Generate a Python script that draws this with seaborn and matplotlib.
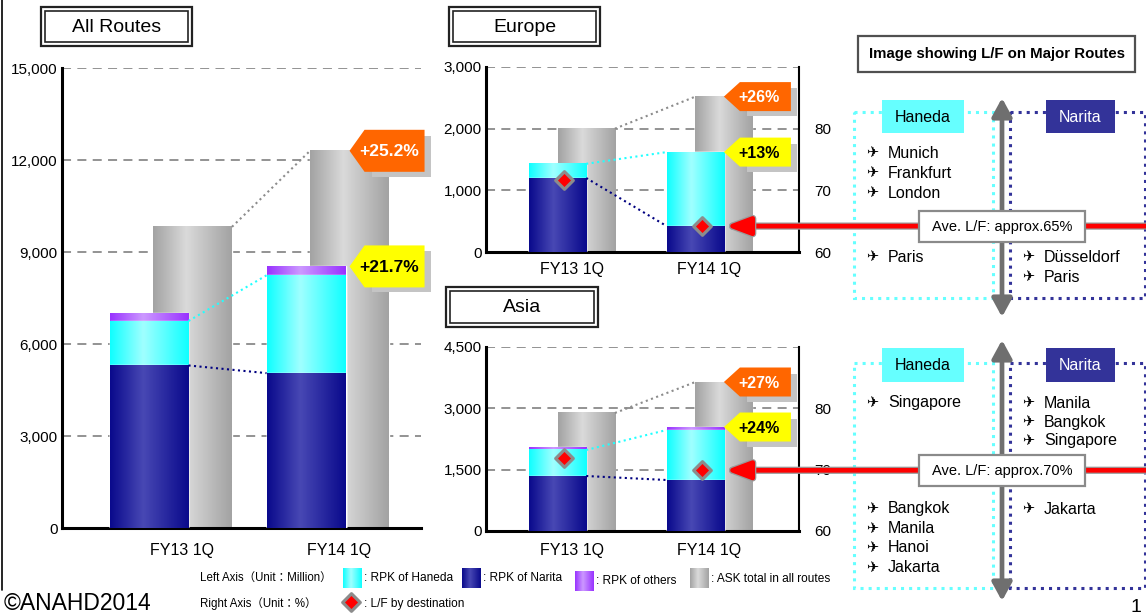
import numpy as np
import matplotlib
matplotlib.use("Agg")
import matplotlib.pyplot as plt
import matplotlib.patheffects as pe
import seaborn as sns
from matplotlib.patches import Rectangle, Polygon
from matplotlib.colors import LinearSegmentedColormap
from matplotlib.ticker import FuncFormatter

sns.set_style("white")
plt.rcParams['font.family'] = ['Liberation Sans', 'DejaVu Sans', 'Noto Sans CJK JP']
plt.rcParams['text.color'] = 'black'
plt.rcParams['xtick.color'] = 'black'
plt.rcParams['ytick.color'] = 'black'

# data (RPK / ASK in million, L/F in %)
quarters = ["FY13 1Q", "FY14 1Q"]

all_narita = [5300, 5050]
all_haneda = [1450, 3190]
all_others = [260, 290]
all_ask = [9820, 12300]
all_tags = ["+21.7%", "+25.2%"]   # RPK growth, ASK growth

eu_narita = [1200, 420]
eu_haneda = [230, 1200]
eu_others = [0, 0]
eu_ask = [2000, 2520]
eu_lf = [71.7, 64.2]
eu_tags = ["+13%", "+26%"]

as_narita = [1345, 1247]
as_haneda = [636, 1223]
as_others = [73, 73]
as_ask = [2886, 3644]
as_lf = [71.9, 69.9]
as_tags = ["+24%", "+27%"]

eu_haneda_hi = ["Munich", "Frankfurt", "London"]
eu_haneda_lo = ["Paris"]
eu_narita_lo = ["Düsseldorf", "Paris"]
as_haneda_hi = ["Singapore"]
as_haneda_lo = ["Bangkok", "Manila", "Hanoi", "Jakarta"]
as_narita_hi = ["Manila", "Bangkok", "Singapore"]
as_narita_lo = ["Jakarta"]

C_NAVY = ("#0a0a8c", "#4848b4")
C_CYAN = ("#10ffff", "#a0ffff")
C_PURP = ("#9933ff", "#cc99ff")
C_GRAY = ("#a3a3a3", "#dadada")
SMALL = ['Liberation Sans', 'Noto Sans CJK JP']

W, H = 1146, 616
fig = plt.figure(figsize=(W / 100, H / 100), dpi=100)


def box(l, t, r, b):
    return [l / W, 1 - b / H, (r - l) / W, (b - t) / H]


def gradient(ax, x0, x1, y0, y1, cols, z):
    cmap = LinearSegmentedColormap.from_list("g", [(0, cols[0]), (0.42, cols[1]), (1, cols[0])])
    ax.imshow(np.linspace(0, 1, 64)[None, :], cmap=cmap, extent=(x0, x1, y0, y1),
              aspect='auto', zorder=z, interpolation='bilinear')


def bars(ax, values, cols, shift, width, z):
    n0 = len(ax.patches)
    sns.barplot(x=quarters, y=values, color=cols[0], saturation=1, width=width,
                errorbar=None, ax=ax, zorder=z)
    for p in ax.patches[n0:]:
        p.set_x(p.get_x() + shift)
        if p.get_height() > 0:
            gradient(ax, p.get_x(), p.get_x() + p.get_width(), 0, p.get_height(), cols, z + 0.01)


def panel(ax, narita, haneda, others, ask, ymax, ystep, width, s_rpk, s_ask, xlim, xpad):
    rpk_top = np.add(narita, haneda)
    tot = rpk_top + np.array(others)
    bars(ax, ask, C_GRAY, s_ask, width, 2)
    bars(ax, tot, C_PURP, s_rpk, width, 3)
    bars(ax, rpk_top, C_CYAN, s_rpk, width, 4)
    bars(ax, narita, C_NAVY, s_rpk, width, 5)
    for vals, c, s in [(ask, '#8c8c8c', s_ask), (rpk_top, '#22ffff', s_rpk), (narita, '#000080', s_rpk)]:
        ax.plot([s + width / 2, 1 + s - width / 2], vals, ls=':', lw=1.5, color=c, zorder=6)
    ax.set_xlim(*xlim)
    ax.set_ylim(0, ymax)
    ax.set_yticks(np.arange(0, ymax + 1, ystep))
    ax.yaxis.set_major_formatter(FuncFormatter(lambda v, p: f"{v:,.0f}"))
    ax.yaxis.grid(True, ls=(0, (5, 3.5)), color='#8a8a8a', lw=1.3)
    ax.xaxis.grid(False)
    ax.set_axisbelow(True)
    ax.set_xlabel("")
    ax.set_ylabel("")
    ax.spines['top'].set_visible(False)
    for k in ['left', 'bottom']:
        ax.spines[k].set_linewidth(2.2)
        ax.spines[k].set_color('black')
    ax.tick_params(axis='y', length=0, labelsize=11, pad=3)
    ax.tick_params(axis='x', length=0, labelsize=11.5, pad=xpad)


def lf_axis(ax, lf, s):
    ax2 = ax.twinx()
    sns.scatterplot(x=np.arange(len(lf)) + s, y=lf, marker='D', s=80, color='#ff0000',
                    edgecolor='#8c8c8c', linewidth=2.3, ax=ax2, zorder=7, legend=False)
    ax2.set_ylim(60, 90)
    ax2.set_yticks([60, 70, 80])
    ax2.set_ylabel("")
    ax2.tick_params(length=0, pad=11, labelsize=11)
    for sp in ax2.spines.values():
        sp.set_visible(False)
    ax2.grid(False)
    ax.spines['right'].set_visible(True)
    ax.spines['right'].set_color('black')
    ax.spines['right'].set_linewidth(1.5)
    return ax2


ax_all = fig.add_axes(box(62, 68, 421, 528))
panel(ax_all, all_narita, all_haneda, all_others, all_ask, 15000, 3000,
      0.503, -0.21, 0.067, (-0.764, 1.522), 11)
ax_all.spines['right'].set_visible(False)

ax_eu = fig.add_axes(box(486, 67, 799, 252))
panel(ax_eu, eu_narita, eu_haneda, eu_others, eu_ask, 3000, 1000,
      0.415, -0.104, 0.105, (-0.625, 1.651), 7)
ax_eu2 = lf_axis(ax_eu, eu_lf, -0.055)

ax_as = fig.add_axes(box(486, 347, 799, 531))
panel(ax_as, as_narita, as_haneda, as_others, as_ask, 4500, 1500,
      0.415, -0.104, 0.105, (-0.625, 1.651), 8.5)
ax_as2 = lf_axis(ax_as, as_lf, -0.055)

for a, xl in [(ax_eu, (-0.625, 1.651)), (ax_as, (-0.625, 1.651))]:
    a.set_xlim(*xl)

# overlay in pixel coordinates (y down)
ov = fig.add_axes([0, 0, 1, 1])
ov.set_zorder(10)
ov.axis('off')


def to_ov(ax, x, y):
    px, py = ax.transData.transform((x, y))
    return px, H - py


def tag(x, y, text, fc, tc, dx, w, h, fs):
    ov.add_patch(Rectangle((x + dx + 7, y - h / 2 + 6), w - 1, h - 1, fc='#c4c4c4', ec='none', zorder=1))
    ov.add_patch(Polygon([(x, y), (x + dx, y - h / 2), (x + dx + w, y - h / 2),
                          (x + dx + w, y + h / 2), (x + dx, y + h / 2)], closed=True,
                         fc=fc, ec='none', zorder=2))
    ov.text(x + dx / 2 + w / 2 + 2, y + 1, text, color=tc, ha='center', va='center',
            fontsize=fs, fontweight='bold', zorder=3)


def tags(ax, s_ask, rpk_tot, ask, labels, dx, w, h, fs):
    tx, ty = to_ov(ax, 1 + s_ask, rpk_tot)
    tag(tx, ty, labels[0], '#ffff00', 'black', dx, w, h, fs)
    tx, ty = to_ov(ax, 1 + s_ask, ask)
    tag(tx, ty, labels[1], '#ff6600', 'white', dx, w, h, fs)


tags(ax_all, 0.067, np.sum([all_narita, all_haneda, all_others], axis=0)[1], all_ask[1], all_tags, 15, 60, 42, 12.5)
tags(ax_eu, 0.105, np.sum([eu_narita, eu_haneda, eu_others], axis=0)[1], eu_ask[1], eu_tags, 16, 51, 29, 11.5)
tags(ax_as, 0.105, np.sum([as_narita, as_haneda, as_others], axis=0)[1], as_ask[1], as_tags, 16, 51, 29, 11.5)


def title_box(l, t, r, b, text):
    ov.add_patch(Rectangle((l, t), r - l, b - t, fill=False, ec='#222222', lw=1.6))
    ov.add_patch(Rectangle((l + 4, t + 4), r - l - 8, b - t - 8, fill=False, ec='#222222', lw=1.2))
    ov.text((l + r) / 2, (t + b) / 2 + 1, text, ha='center', va='center', fontsize=14)


title_box(41, 7, 192, 46, "All Routes")
title_box(449, 7, 600, 46, "Europe")
title_box(446, 287, 598, 327, "Asia")

# right-hand schematic
ov.add_patch(Rectangle((858, 36), 277, 36, fc='white', ec='#505050', lw=1.6))
ov.text(997, 54, "Image showing L/F on Major Routes", ha='center', va='center',
        fontsize=10.8, fontweight='bold')


def routes(x, y0, names, step=20):
    for i, nm in enumerate(names):
        y = y0 + i * step
        ov.text(x, y, "✈", fontsize=10.5, va='center', ha='left', family='DejaVu Sans', zorder=4)
        ov.text(x + 22, y, nm, fontsize=11.5, va='center', ha='left', zorder=4)


def region(top, bottom, lab_t, lab_b):
    ov.add_patch(Rectangle((854, top), 139, bottom - top, fill=False, ec='#66ffff', lw=2.2, ls=':', zorder=2))
    ov.add_patch(Rectangle((1010, top), 135, bottom - top, fill=False, ec='#333399', lw=2.2, ls=':', zorder=2))
    ov.add_patch(Rectangle((882, lab_t), 82, lab_b - lab_t, fc='#66ffff', ec='none', zorder=4))
    ov.text(923, (lab_t + lab_b) / 2 + 1, "Haneda", ha='center', va='center', fontsize=11.5, zorder=5)
    ov.add_patch(Rectangle((1046, lab_t), 69, lab_b - lab_t, fc='#333399', ec='none', zorder=4))
    ov.text(1080.5, (lab_t + lab_b) / 2 + 1, "Narita", ha='center', va='center', fontsize=11.5,
            color='white', zorder=5)


region(112, 298, 100, 133)
region(363, 588, 348, 382)
for y0, y1 in [(98, 317), (340, 601)]:
    ov.annotate('', xy=(1002, y0), xytext=(1002, y1),
                arrowprops=dict(arrowstyle='<|-|>,head_length=1.1,head_width=0.6', mutation_scale=10,
                                lw=3.4, color='#6f6f6f', shrinkA=0, shrinkB=0), zorder=3)

routes(866, 153, eu_haneda_hi)
routes(866, 257, eu_haneda_lo)
routes(1022, 257, eu_narita_lo)
routes(866, 403, as_haneda_hi)
routes(866, 509, as_haneda_lo, 19.5)
routes(1022, 403, as_narita_hi, 19)
routes(1022, 509, as_narita_lo)


def ave_arrow(ax, ax2, s_ask, lf, text):
    tx, _ = to_ov(ax, 1 + s_ask, 0)
    _, ty = to_ov(ax2, 1, lf)
    ov.annotate('', xy=(tx + 2, ty), xytext=(W + 5, ty),
                arrowprops=dict(arrowstyle='-|>,head_length=1.45,head_width=0.55', mutation_scale=10,
                                lw=3.4, color='#ff0000', shrinkA=0, shrinkB=0,
                                path_effects=[pe.Stroke(linewidth=5.2, foreground='#9a9a9a'), pe.Normal()]),
                zorder=5)
    ov.add_patch(Rectangle((919, ty - 15), 166, 31, fc='white', ec='#8a8a8a', lw=1.6, zorder=6))
    ov.text(1002, ty + 1, text, ha='center', va='center', fontsize=10.5, zorder=7)


ave_arrow(ax_eu, ax_eu2, 0.105, eu_lf[1], "Ave. L/F: approx.65%")
ave_arrow(ax_as, ax_as2, 0.105, as_lf[1], "Ave. L/F: approx.70%")

# legend / footer
ov.text(200, 578, "Left Axis（Unit：Million）", fontsize=8.3, va='center', family=SMALL)
ov.text(200, 604, "Right Axis（Unit：%）", fontsize=8.3, va='center', family=SMALL)
for (l, t), cols, lab, ly in [((343, 568), C_CYAN, ": RPK of Haneda", 578),
                              ((462, 568), C_NAVY, ": RPK of Narita", 578),
                              ((575, 571), C_PURP, ": RPK of others", 581),
                              ((690, 568), C_GRAY, ": ASK total in all routes", 579)]:
    gradient(ov, l, l + 19, t + 20, t, cols, 3)
    ov.text(l + 21, ly, lab, fontsize=8.6, va='center', family=SMALL)
ov.scatter([351], [602], marker='D', s=80, color='#ff0000', edgecolor='#8c8c8c', linewidth=2.3, zorder=4)
ov.text(364, 604, ": L/F by destination", fontsize=8.6, va='center', family=SMALL)
ov.text(4, 604, "©ANAHD2014", fontsize=16.5, va='center')
ov.text(1131, 608, "1", fontsize=14, va='center')
ov.plot([1.5, 1.5], [0, 590], color='black', lw=1.2)

ov.set_xlim(0, W)
ov.set_ylim(H, 0)

fig.savefig("out.png", dpi=100)
